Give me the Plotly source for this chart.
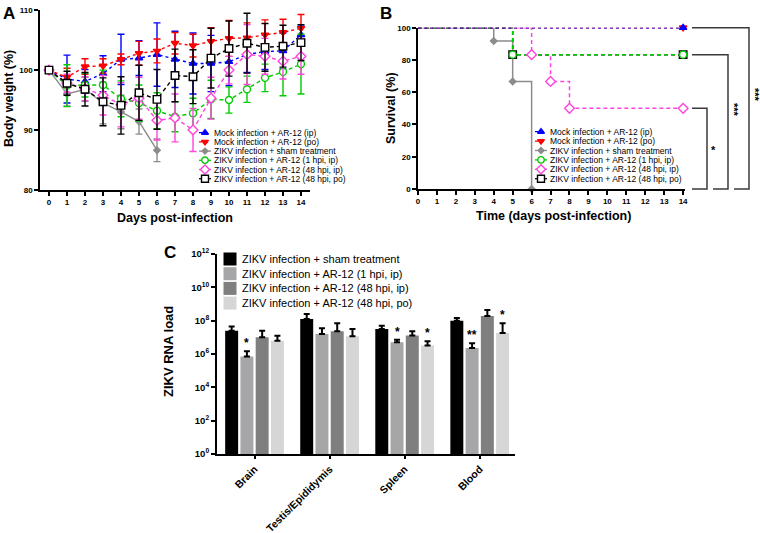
import math
import plotly.graph_objects as go

# ---------------- data: panel A (body weight, % of day 0) ----------------
days = list(range(15))
mock_ip = [100, 98.5, 98.1, 99.4, 101.8, 102.0, 102.6, 101.8, 101.1, 101.1, 101.4, 102.6, 103.1, 103.2, 105.9]
mock_ip_err = [0, 4.0, 2.0, 3.0, 4.2, 2.9, 5.3, 4.7, 5.1, 4.7, 4.0, 3.0, 3.0, 3.0, 1.5]
mock_po = [100, 98.8, 100.6, 100.7, 101.8, 102.8, 103.2, 104.5, 104.1, 104.8, 105.3, 105.4, 105.9, 106.3, 107.0]
mock_po_err = [0, 1.5, 1.3, 1.2, 0.9, 2.0, 2.0, 1.8, 1.9, 2.3, 3.0, 2.5, 2.5, 2.2, 2.3]
sham_days = [0, 1, 2, 3, 4, 5, 6]
sham = [100, 96.0, 96.8, 94.5, 93.0, 91.4, 86.6]
sham_err = [0, 2.0, 2.0, 3.5, 2.8, 2.1, 1.9]
hpi1_ip = [100, 97.4, 97.5, 97.5, 95.2, 94.5, 93.2, 92.2, 92.8, 95.1, 95.0, 96.8, 98.7, 99.7, 101.0]
hpi1_ip_err = [0, 3.5, 2.0, 2.5, 3.0, 3.0, 3.0, 2.5, 2.5, 3.2, 2.2, 2.2, 2.3, 4.0, 5.0]
hpi48_ip = [100, 97.8, 96.9, 95.8, 94.2, 95.3, 91.6, 92.0, 90.0, 95.3, 100.0, 102.6, 102.3, 101.5, 102.3]
hpi48_ip_err = [0, 1.5, 2.0, 3.3, 3.7, 3.5, 3.3, 4.0, 3.6, 3.5, 2.3, 5.0, 3.0, 3.0, 3.0]
hpi48_po = [100, 97.8, 96.8, 94.7, 94.1, 96.2, 95.1, 99.1, 98.9, 102.0, 103.6, 104.5, 103.8, 104.0, 104.6]
hpi48_po_err = [0, 2.0, 2.8, 4.0, 4.8, 4.6, 5.0, 4.4, 4.5, 5.0, 4.6, 5.0, 4.0, 3.5, 3.0]

group_names = [
    "Mock infection + AR-12 (ip)",
    "Mock infection + AR-12 (po)",
    "ZIKV infection + sham treatment",
    "ZIKV infection + AR-12 (1 hpi, ip)",
    "ZIKV infection + AR-12 (48 hpi, ip)",
    "ZIKV infection + AR-12 (48 hpi, po)",
]

# ---------------- data: panel B (survival %) ----------------
surv_mock_ip_days = [0, 14]
surv_mock_ip = [100, 100]
surv_mock_po_days = [0, 14]
surv_mock_po = [100, 100]
surv_sham_days = [0, 4, 5, 6]
surv_sham = [100, 91.7, 66.7, 0]
surv_1hpi_days = [0, 5, 14]
surv_1hpi = [100, 83.3, 83.3]
surv_48ip_days = [0, 6, 7, 8, 14]
surv_48ip = [100, 83.3, 66.7, 50, 50]
surv_48po_days = [0, 5, 14]
surv_48po = [100, 83.3, 83.3]
sig_levels = [50, 83.3, 100]
sig_labels = ["*", "***", "***"]

# ---------------- data: panel C (ZIKV RNA load) ----------------
tissues = ["Brain", "Testis/Epididymis", "Spleen", "Blood"]
c_names = [
    "ZIKV infection + sham treatment",
    "ZIKV infection + AR-12 (1 hpi, ip)",
    "ZIKV infection + AR-12 (48 hpi, ip)",
    "ZIKV infection + AR-12 (48 hpi, po)",
]
rna_sham = [2.5e7, 1.26e8, 3.2e7, 1.0e8]
rna_sham_err = [1.9e7, 1.25e8, 1.8e7, 4.5e7]
rna_1hpi_ip = [7.2e5, 1.6e7, 5.0e6, 2.3e6]
rna_1hpi_ip_err = [7.3e5, 1.9e7, 2.2e6, 2.1e6]
rna_48hpi_ip = [1.0e7, 2.3e7, 1.3e7, 1.9e8]
rna_48hpi_ip_err = [1.5e7, 4.6e7, 1.0e7, 2.5e8]
rna_48hpi_po = [6.3e6, 1.15e7, 3.2e6, 1.8e7]
rna_48hpi_po_err = [6.3e6, 2.0e7, 2.6e6, 5.3e7]
c_stars = [("Brain", 1, "*"), ("Spleen", 1, "*"), ("Spleen", 3, "*"),
           ("Blood", 1, "**"), ("Blood", 3, "*")]
c_yticks = [0, 2, 4, 6, 8, 10, 12]

# ---------------- styling ----------------
W, H = 760, 533
FONT = "Arial, 'Liberation Sans', sans-serif"
BLUE, RED, GREY, GREEN, MAG, BLK = "#0000FF", "#FF0000", "#8C8C8C", "#00CC00", "#FF44DD", "#000000"
styles = [
    dict(color=BLUE, dash="dot", symbol="triangle-up", fill=BLUE, size=6.5),
    dict(color=RED, dash="dot", symbol="triangle-down", fill=RED, size=6.5),
    dict(color=GREY, dash="solid", symbol="diamond", fill=GREY, size=5),
    dict(color=GREEN, dash="4px,3px", symbol="circle", fill="white", size=7),
    dict(color=MAG, dash="4px,3px", symbol="diamond", fill="white", size=7.5),
    dict(color=BLK, dash="4px,3px", symbol="square", fill="white", size=7.5),
]
bar_colors = ["#000000", "#A6A6A8", "#7F7F7F", "#D6D6D6"]


def px(x):
    return x / W


def py(y):
    return 1 - y / H


fig = go.Figure()

# ---------------- panel A ----------------
a_series = [
    (days, mock_ip, mock_ip_err),
    (days, mock_po, mock_po_err),
    (sham_days, sham, sham_err),
    (days, hpi1_ip, hpi1_ip_err),
    (days, hpi48_ip, hpi48_ip_err),
    (days, hpi48_po, hpi48_po_err),
]
for (xs, ys, es), st in zip(a_series, styles):
    fig.add_trace(go.Scatter(
        x=xs, y=ys, mode="lines+markers", xaxis="x", yaxis="y", showlegend=False,
        cliponaxis=False,
        line=dict(color=st["color"], dash=st["dash"], width=1.4),
        marker=dict(symbol=st["symbol"], size=st["size"], color=st["fill"],
                    line=dict(color=st["color"], width=1.4)),
        error_y=dict(type="data", array=es, color=st["color"], thickness=1.4, width=3.5),
    ))

# ---------------- panel B ----------------
b_series = [
    (surv_sham_days, surv_sham, 2),
    (surv_48ip_days, surv_48ip, 4),
    (surv_48po_days, surv_48po, 5),
    (surv_1hpi_days, surv_1hpi, 3),
    (surv_mock_po_days, surv_mock_po, 1),
    (surv_mock_ip_days, surv_mock_ip, 0),
]
for xs, ys, k in b_series:
    st = styles[k]
    fig.add_trace(go.Scatter(
        x=xs, y=ys, mode="lines", line_shape="hv", xaxis="x2", yaxis="y2", showlegend=False,
        cliponaxis=False,
        line=dict(color=st["color"], dash=st["dash"], width=1.8 if k == 0 else 1.5),
    ))
for xs, ys, k in b_series:
    st = styles[k]
    fig.add_trace(go.Scatter(
        x=xs[1:], y=ys[1:], mode="markers", xaxis="x2", yaxis="y2", showlegend=False,
        cliponaxis=False,
        marker=dict(symbol=st["symbol"], size=st["size"], color=st["fill"],
                    line=dict(color=st["color"], width=1.4)),
    ))

# ---------------- panel C ----------------
c_vals = [rna_sham, rna_1hpi_ip, rna_48hpi_ip, rna_48hpi_po]
c_errs = [rna_sham_err, rna_1hpi_ip_err, rna_48hpi_ip_err, rna_48hpi_po_err]
for name, vals, errs, col in zip(c_names, c_vals, c_errs, bar_colors):
    fig.add_trace(go.Bar(
        x=tissues, y=vals, name=name, xaxis="x3", yaxis="y3", showlegend=False,
        marker=dict(color=col, line=dict(width=0)),
        error_y=dict(type="data", array=errs, arrayminus=[0] * len(errs), symmetric=False,
                     color="black", thickness=2, width=3),
    ))

# category geometry for panel C (pixels)
c_x0, c_x1 = 217, 515
c_range = [-0.5, 3.47]
c_cat_px = (c_x1 - c_x0) / (c_range[1] - c_range[0])
bargap, bargroupgap = 0.187, 0.15
slot = c_cat_px * (1 - bargap) / 4

annotations = []
for tissue, k, txt in c_stars:
    i = tissues.index(tissue)
    top = c_vals[k][i] + c_errs[k][i]
    annotations.append(dict(
        x=tissue, y=math.log10(top), xref="x3", yref="y3", text=txt, showarrow=False,
        xshift=(k - 1.5) * slot, yanchor="bottom", yshift=-1,
        font=dict(family=FONT, size=12, color="black", weight="bold"),
    ))

# ---------------- custom legends (overlay axes in pixel units) ----------------
def add_line_legend(x0, y0, dy, fs):
    for i, (name, st) in enumerate(zip(group_names, styles)):
        ly = y0 + i * dy
        fig.add_trace(go.Scatter(
            x=[x0 - 6, x0 + 6], y=[ly, ly], mode="lines", xaxis="x4", yaxis="y4",
            showlegend=False, hoverinfo="skip",
            line=dict(color=st["color"], dash="dot" if st["dash"] == "dot" else "solid", width=1.3),
        ))
        fig.add_trace(go.Scatter(
            x=[x0], y=[ly], mode="markers", xaxis="x4", yaxis="y4", showlegend=False,
            hoverinfo="skip",
            marker=dict(symbol=st["symbol"], size=st["size"] - 0.5, color=st["fill"],
                        line=dict(color=st["color"], width=1.4)),
        ))
        annotations.append(dict(
            x=x0 + 7, y=ly, xref="x4", yref="y4", text=name, showarrow=False,
            xanchor="left", yanchor="middle",
            font=dict(family=FONT, size=fs, color="black"),
        ))


add_line_legend(205, 132.7, 9.2, 8.5)
add_line_legend(541, 131.7, 9.4, 8.5)

for i, (name, col) in enumerate(zip(c_names, bar_colors)):
    ly = 259 + i * 14.7
    fig.add_trace(go.Scatter(
        x=[230], y=[ly], mode="markers", xaxis="x4", yaxis="y4", showlegend=False,
        hoverinfo="skip", marker=dict(symbol="square", size=13, color=col, line=dict(width=0)),
    ))
    annotations.append(dict(
        x=240, y=ly, xref="x4", yref="y4", text=name, showarrow=False,
        xanchor="left", yanchor="middle", font=dict(family=FONT, size=11, color="black"),
    ))

# ---------------- significance brackets in panel B ----------------
b_y0, b_y100 = 189, 27.7


def yB(v):
    return b_y0 - v / 100 * (b_y0 - b_y100)


shapes = []
bracket_right = [707, 728, 749]
bracket_bottom_left = [692, 713, 734]
star_y = [150, 110, 95]
for lev, lab, xr, xbl, ys in zip(sig_levels, sig_labels, bracket_right, bracket_bottom_left, star_y):
    yt = yB(lev)
    pts = [(692, yt), (xr, yt), (xr, b_y0), (xbl, b_y0)]
    path = "M " + " L ".join(f"{px(a):.5f},{py(b):.5f}" for a, b in pts)
    shapes.append(dict(type="path", path=path, xref="paper", yref="paper",
                       line=dict(color="#3a3a3a", width=1.5)))
    annotations.append(dict(
        x=px(xr + 6), y=py(ys), xref="paper", yref="paper", text=lab, showarrow=False,
        textangle=90 if len(lab) > 1 else 0, xanchor="center", yanchor="middle",
        font=dict(family=FONT, size=11, color="black", weight="bold"),
    ))

# ---------------- titles / panel letters ----------------
def txt(x, y, s, size, angle=0, bold=True):
    annotations.append(dict(
        x=px(x), y=py(y), xref="paper", yref="paper", text=s, showarrow=False,
        textangle=angle, xanchor="center", yanchor="middle",
        font=dict(family=FONT, size=size, color="black", weight="bold" if bold else "normal"),
    ))


txt(9, 13, "A", 17)
txt(386, 13, "B", 17)
txt(170, 252, "C", 17)
txt(175, 218, "Days post-infection", 12.5)
txt(9, 99, "Body weight (%)", 12.5, angle=-90)
txt(553, 216, "Time (days post-infection)", 12.5)
txt(391, 108, "Survival (%)", 12.5, angle=-90)
txt(168, 352, "ZIKV RNA load", 13, angle=-90)

tick_font = dict(family=FONT, size=8, color="black", weight="bold")
axis_common = dict(showline=True, linecolor="black", linewidth=1.6, ticks="outside",
                   tickcolor="black", tickwidth=1.5, ticklen=4, showgrid=False,
                   zeroline=False, tickfont=tick_font, fixedrange=True, automargin=False)

fig.update_layout(
    width=W, height=H, autosize=False,
    margin=dict(l=0, r=0, t=0, b=0, autoexpand=False),
    paper_bgcolor="white", plot_bgcolor="rgba(0,0,0,0)",
    showlegend=False,
    font=dict(family=FONT, color="black"),
    barmode="group", bargap=bargap, bargroupgap=bargroupgap,
    xaxis=dict(domain=[px(40), px(310)], range=[-0.5, 14.5], tickmode="array",
               tickvals=days, anchor="y", **axis_common),
    yaxis=dict(domain=[py(189.7), py(10.3)], range=[80, 110], tickmode="array",
               tickvals=[80, 90, 100, 110], anchor="x", **axis_common),
    xaxis2=dict(domain=[px(418), px(685)], range=[0, 14.1], tickmode="array",
                tickvals=days, anchor="y2", **axis_common),
    yaxis2=dict(domain=[py(189), py(27.7)], range=[0, 100], tickmode="array",
                tickvals=[0, 20, 40, 60, 80, 100], anchor="x2", **axis_common),
    xaxis3=dict(domain=[px(c_x0), px(c_x1)], range=c_range, type="category",
                tickangle=-45, anchor="y3",
                **{**axis_common, "linewidth": 2, "ticklen": 3,
                   "tickfont": dict(family=FONT, size=10.5, color="black", weight="bold")}),
    yaxis3=dict(domain=[py(454), py(254)], type="log", range=[0, 12], tickmode="array",
                tickvals=[10 ** e for e in c_yticks],
                ticktext=[f"10<sup>{e}</sup>" for e in c_yticks], anchor="x3",
                **{**axis_common, "linewidth": 2,
                   "tickfont": dict(family=FONT, size=9.5, color="black", weight="bold")}),
    xaxis4=dict(domain=[0, 1], range=[0, W], visible=False, fixedrange=True, anchor="y4"),
    yaxis4=dict(domain=[0, 1], range=[H, 0], visible=False, fixedrange=True, anchor="x4"),
    annotations=annotations,
    shapes=shapes,
)

# remove the browser's default 8px page margin so the figure sits at the window origin
fig.write_html("out.html", config={"displayModeBar": False},
               post_script="document.body.style.margin='0';document.body.style.overflow='hidden';")
